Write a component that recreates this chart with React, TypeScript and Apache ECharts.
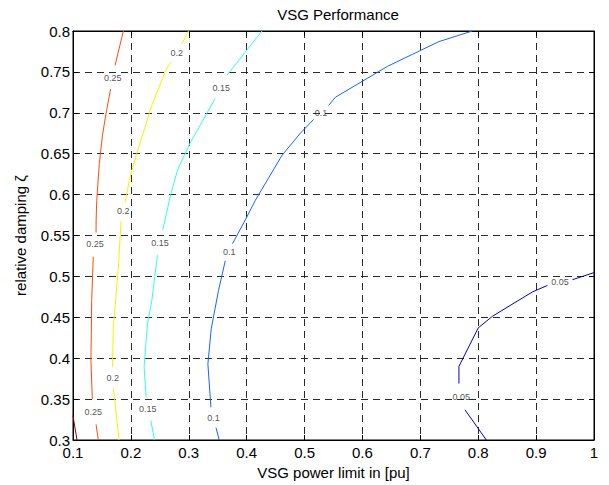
import React, { useEffect, useRef } from "react";
import * as echarts from "echarts";

const xTicks = [0.1, 0.2, 0.3, 0.4, 0.5, 0.6, 0.7, 0.8, 0.9, 1.0];
const yTicks = [0.3, 0.35, 0.4, 0.45, 0.5, 0.55, 0.6, 0.65, 0.7, 0.75, 0.8];

const levels = ["0.05", "0.1", "0.15", "0.2", "0.25", "0.3"];
const levelColors = ["#0000c0", "#1464ff", "#30ffe8", "#f4f400", "#ff4a10", "#8a0000"];

// contour segments (gaps where labels are placed)
const c005 = [
  [[1.0, 0.5046], [0.9628, 0.496]],
  [[0.9196, 0.489], [0.8936, 0.481], [0.8244, 0.4512], [0.8, 0.437], [0.7667, 0.39], [0.7667, 0.369]],
  [[0.777, 0.337], [0.814, 0.3]],
];
const c010 = [
  [[0.7898, 0.8], [0.732, 0.787], [0.6438, 0.757], [0.5533, 0.719], [0.5417, 0.709]],
  [[0.5158, 0.692], [0.4927, 0.675], [0.461, 0.648], [0.415, 0.593], [0.3976, 0.569], [0.3756, 0.54]],
  [[0.363, 0.519], [0.3514, 0.483], [0.3388, 0.436], [0.333, 0.393], [0.3383, 0.34]],
  [[0.347, 0.315], [0.3526, 0.3]],
];
const c015 = [
  [[0.4265, 0.8], [0.366, 0.746]],
  [[0.3457, 0.7176], [0.302, 0.6626], [0.2805, 0.63], [0.2678, 0.5972], [0.259, 0.569], [0.255, 0.557]],
  [[0.2459, 0.526], [0.2362, 0.4707], [0.2286, 0.442], [0.2228, 0.389], [0.2263, 0.353]],
  [[0.2344, 0.324], [0.2407, 0.3]],
];
const c020 = [
  [[0.2995, 0.8], [0.288, 0.784]],
  [[0.2696, 0.7625], [0.261, 0.753], [0.236, 0.709], [0.21, 0.65], [0.1986, 0.6216], [0.19, 0.591]],
  [[0.183, 0.5675], [0.1784, 0.5115], [0.1697, 0.438], [0.168, 0.389]],
  [[0.1697, 0.364], [0.1796, 0.3]],
];
const c025 = [
  [[0.187, 0.8], [0.1727, 0.758]],
  [[0.165, 0.729], [0.158, 0.703], [0.151, 0.673], [0.1455, 0.638], [0.141, 0.593], [0.14, 0.569], [0.1398, 0.5536]],
  [[0.135, 0.524], [0.1323, 0.4707], [0.131, 0.397], [0.1334, 0.35]],
  [[0.1398, 0.319], [0.1438, 0.3]],
];
const c030 = [
  [[0.1, 0.33], [0.1017, 0.322], [0.107, 0.3]],
];
const contours = [c005, c010, c015, c020, c025, c030];

// contour labels: [x, y, text]
const contourLabels = [
  [0.1687, 0.742, "0.25"],
  [0.138, 0.539, "0.25"],
  [0.1351, 0.334, "0.25"],
  [0.2794, 0.7734, "0.2"],
  [0.187, 0.58, "0.2"],
  [0.1687, 0.3757, "0.2"],
  [0.356, 0.7306, "0.15"],
  [0.2505, 0.5408, "0.15"],
  [0.2292, 0.3382, "0.15"],
  [0.5285, 0.7, "0.1"],
  [0.37, 0.53, "0.1"],
  [0.3427, 0.327, "0.1"],
  [0.9414, 0.4932, "0.05"],
  [0.7707, 0.3524, "0.05"],
];

const FONT = "'Liberation Sans', Arial, Helvetica, sans-serif";

export default function App() {
  const ref = useRef<HTMLDivElement>(null);
  useEffect(() => {
    if (!ref.current) return;
    const chart = echarts.init(ref.current, null, { renderer: "svg" });
    const series: any[] = [];
    contours.forEach((segs, li) => {
      segs.forEach((seg) => {
        series.push({
          type: "line",
          name: levels[li],
          data: seg,
          showSymbol: false,
          symbol: "none",
          lineStyle: { color: levelColors[li], width: 1 },
          silent: true,
          z: 3,
        });
      });
    });
    series.push({
      type: "scatter",
      data: contourLabels,
      symbolSize: 0,
      silent: true,
      z: 4,
      label: {
        show: true,
        position: "inside",
        formatter: (p: any) => p.value[2],
        color: "#222",
        fontSize: 9,
        fontFamily: FONT,
      },
    });
    const fmt = (v: number) => String(+v.toFixed(2));
    chart.setOption({
      animation: false,
      backgroundColor: "#fff",
      textStyle: { fontFamily: FONT },
      title: {
        text: "VSG Performance",
        left: 333,
        top: 2,
        textAlign: "center",
        textStyle: { fontSize: 15, fontWeight: "normal", color: "#000", fontFamily: FONT },
      },
      grid: { left: 73, right: 15, top: 31, bottom: 45, show: true, borderColor: "#000", borderWidth: 1 },
      xAxis: [
        {
          type: "value",
          min: xTicks[0],
          max: xTicks[xTicks.length - 1],
          interval: 0.1,
          name: "VSG power limit in [pu]",
          nameLocation: "middle",
          nameGap: 20,
          nameTextStyle: { fontSize: 15, color: "#000", fontFamily: FONT },
          axisLine: { show: true, lineStyle: { color: "#000", width: 1 } },
          axisTick: { show: true, inside: true, length: 5, lineStyle: { color: "#000" } },
          axisLabel: { fontSize: 15, color: "#000", margin: 5, formatter: fmt, fontFamily: FONT },
          splitLine: { show: true, lineStyle: { color: "#2a2a2a", type: [7, 5], width: 1 } },
        },
        {
          type: "value",
          position: "top",
          min: xTicks[0],
          max: xTicks[xTicks.length - 1],
          interval: 0.1,
          axisLine: { show: true, lineStyle: { color: "#000", width: 1 } },
          axisTick: { show: true, inside: true, length: 5, lineStyle: { color: "#000" } },
          axisLabel: { show: false },
          splitLine: { show: false },
        },
      ],
      yAxis: [
        {
          type: "value",
          min: yTicks[0],
          max: yTicks[yTicks.length - 1],
          interval: 0.05,
          name: "relative damping ζ",
          nameLocation: "middle",
          nameGap: 45,
          nameTextStyle: { fontSize: 15, color: "#000", fontFamily: FONT },
          axisLine: { show: true, lineStyle: { color: "#000", width: 1 } },
          axisTick: { show: true, inside: true, length: 5, lineStyle: { color: "#000" } },
          axisLabel: { fontSize: 15, color: "#000", margin: 3, formatter: fmt, fontFamily: FONT },
          splitLine: { show: true, lineStyle: { color: "#2a2a2a", type: [7, 5], width: 1 } },
        },
        {
          type: "value",
          position: "right",
          min: yTicks[0],
          max: yTicks[yTicks.length - 1],
          interval: 0.05,
          axisLine: { show: true, lineStyle: { color: "#000", width: 1 } },
          axisTick: { show: true, inside: true, length: 5, lineStyle: { color: "#000" } },
          axisLabel: { show: false },
          splitLine: { show: false },
        },
      ],
      series,
    });
    return () => chart.dispose();
  }, []);
  return (
    <div
      ref={ref}
      style={{ position: "fixed", left: 0, top: 0, width: 609, height: 485, background: "#fff" }}
    />
  );
}
